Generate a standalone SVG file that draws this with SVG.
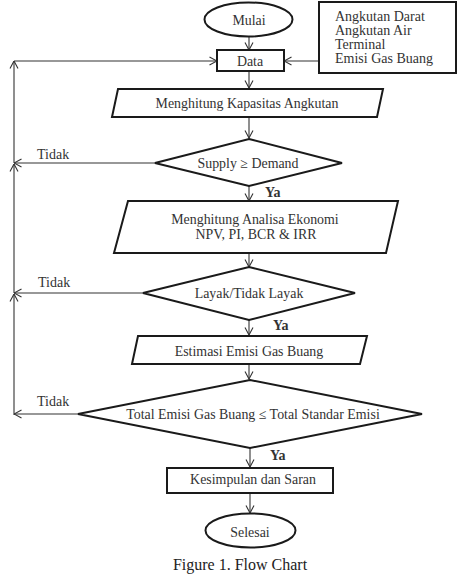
<svg xmlns="http://www.w3.org/2000/svg" width="469" height="577" viewBox="0 0 469 577">
<style>
.shape{fill:#fff;stroke:#1a1a1a;stroke-width:2}
.conn{fill:none;stroke:#333;stroke-width:1.1}
.t{font-family:"Liberation Serif","Times New Roman",serif;font-size:13.9px;fill:#333;text-anchor:middle;dominant-baseline:central}
.tl{font-family:"Liberation Serif","Times New Roman",serif;font-size:14px;fill:#333}
.b{font-weight:bold}
</style>
<defs>
<marker id="ah" viewBox="0 0 10 10" refX="9.5" refY="5" markerWidth="10" markerHeight="10" markerUnits="userSpaceOnUse" orient="auto">
<path d="M2,1 L9.5,5 L2,9" fill="none" stroke="#333" stroke-width="1.1"/>
</marker>
</defs>
<g id="connectors">
<line class="conn" x1="249" y1="37" x2="249" y2="50" marker-end="url(#ah)"/>
<line class="conn" x1="319" y1="61" x2="284" y2="61" marker-end="url(#ah)"/>
<line class="conn" x1="249" y1="71" x2="249" y2="88" marker-end="url(#ah)"/>
<line class="conn" x1="249" y1="117" x2="249" y2="138" marker-end="url(#ah)"/>
<line class="conn" x1="249" y1="186" x2="249" y2="201" marker-end="url(#ah)"/>
<line class="conn" x1="249" y1="253" x2="249" y2="267" marker-end="url(#ah)"/>
<line class="conn" x1="249" y1="320" x2="249" y2="335" marker-end="url(#ah)"/>
<line class="conn" x1="249" y1="364" x2="249" y2="379" marker-end="url(#ah)"/>
<line class="conn" x1="250" y1="448" x2="250" y2="467" marker-end="url(#ah)"/>
<line class="conn" x1="250" y1="493" x2="250" y2="513" marker-end="url(#ah)"/>
<line class="conn" x1="155" y1="163" x2="14" y2="163" marker-end="url(#ah)"/>
<line class="conn" x1="143" y1="293" x2="14" y2="293" marker-end="url(#ah)"/>
<line class="conn" x1="78" y1="414" x2="14" y2="414" marker-end="url(#ah)"/>
<line class="conn" x1="14" y1="415" x2="14" y2="294" marker-end="url(#ah)"/>
<line class="conn" x1="14" y1="293" x2="14" y2="164" marker-end="url(#ah)"/>
<line class="conn" x1="14" y1="163" x2="14" y2="61" marker-end="url(#ah)"/>
<line class="conn" x1="14" y1="61" x2="217" y2="61" marker-end="url(#ah)"/>
<text class="tl" x="37" y="159">Tidak</text>
<text class="tl" x="38" y="287">Tidak</text>
<text class="tl" x="37" y="406">Tidak</text>
<text class="tl b" x="265" y="197">Ya</text>
<text class="tl b" x="273" y="330">Ya</text>
<text class="tl b" x="270" y="460">Ya</text>
</g>
<g id="mulai">
<ellipse class="shape" cx="248.5" cy="19.5" rx="44" ry="17"/>
<text class="t" x="249" y="20">Mulai</text>
</g>
<g id="input">
<rect class="shape" x="319" y="2" width="137" height="71"/>
<text class="tl" x="335" y="21">Angkutan Darat</text>
<text class="tl" x="335" y="35">Angkutan Air</text>
<text class="tl" x="335" y="49">Terminal</text>
<text class="tl" x="335" y="63">Emisi Gas Buang</text>
</g>
<g id="data">
<rect class="shape" x="217" y="50" width="67" height="21"/>
<text class="t" x="250" y="61">Data</text>
</g>
<g id="kapasitas">
<polygon class="shape" points="118,89 383,89 377,117 112,117"/>
<text class="t" x="247" y="103">Menghitung Kapasitas Angkutan</text>
</g>
<g id="supply">
<polygon class="shape" points="249,139 342,163 249,186 155,163"/>
<text class="t" x="248" y="163">Supply ≥ Demand</text>
</g>
<g id="ekonomi">
<polygon class="shape" points="128,201 398,201 386,253 114,253"/>
<text class="t" x="255" y="219">Menghitung Analisa Ekonomi</text>
<text class="t" x="256" y="234">NPV, PI, BCR &amp; IRR</text>
</g>
<g id="layak">
<polygon class="shape" points="249,267 355,293 249,320 143,293"/>
<text class="t" x="249" y="293">Layak/Tidak Layak</text>
</g>
<g id="estimasi">
<polygon class="shape" points="138,336 367,336 360,364 132,364"/>
<text class="t" x="249" y="351">Estimasi Emisi Gas Buang</text>
</g>
<g id="total">
<polygon class="shape" points="250,380 422,414 250,448 78,414"/>
<text class="t" x="253" y="414">Total Emisi Gas Buang ≤ Total Standar Emisi</text>
</g>
<g id="kesimpulan">
<rect class="shape" x="167" y="468" width="166" height="25"/>
<text class="t" x="253" y="479">Kesimpulan dan Saran</text>
</g>
<g id="selesai">
<ellipse class="shape" cx="250.5" cy="530.5" rx="45" ry="17"/>
<text class="t" x="250" y="532">Selesai</text>
</g>
<text x="240" y="570" font-family="Liberation Serif, Times New Roman, serif" font-size="16" fill="#222" text-anchor="middle">Figure 1. Flow Chart</text>
</svg>
